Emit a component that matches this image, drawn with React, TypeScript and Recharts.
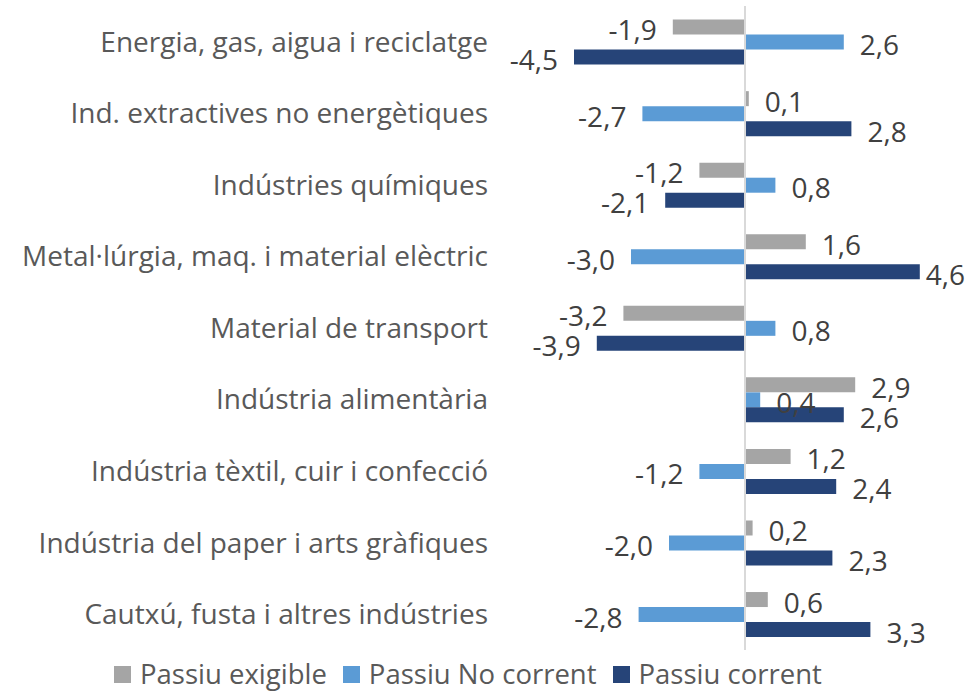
import React from 'react';
import { BarChart, Bar, XAxis, YAxis, ReferenceLine, Legend, LabelList } from 'recharts';

// sectors (top to bottom)
const sectors = [
  'Energia, gas, aigua i reciclatge',
  'Ind. extractives no energètiques',
  'Indústries químiques',
  'Metal·lúrgia, maq. i material elèctric',
  'Material de transport',
  'Indústria alimentària',
  'Indústria tèxtil, cuir i confecció',
  'Indústria del paper i arts gràfiques',
  'Cautxú, fusta i altres indústries',
];

const passiuExigible = [-1.9, 0.1, -1.2, 1.6, -3.2, 2.9, 1.2, 0.2, 0.6];
const passiuNoCorrent = [2.6, -2.7, 0.8, -3.0, 0.8, 0.4, -1.2, -2.0, -2.8];
const passiuCorrent = [-4.5, 2.8, -2.1, 4.6, -3.9, 2.6, 2.4, 2.3, 3.3];

const seriesNames = ['Passiu exigible', 'Passiu No corrent', 'Passiu corrent'];
const colors = ['#A5A5A5', '#5B9BD5', '#264478'];

const data = sectors.map((name, i) => ({
  name,
  exigible: passiuExigible[i],
  noCorrent: passiuNoCorrent[i],
  corrent: passiuCorrent[i],
}));

const FONT = '"Open Sans", sans-serif';
const LABEL_SIZE = 28;
const CHART_W = 967;

const fmt = (v: number) => v.toFixed(1).replace('.', ',');

// amplada aproximada del text de l'etiqueta
const textWidth = (s: string) =>
  s.split('').reduce((w, c) => w + (c === ',' ? 0.25 : c === '-' ? 0.32 : 0.57), 0) * LABEL_SIZE;

// etiqueta fora de la barra, a l'esquerra si es negatiu
const OutsideLabel = (props: any) => {
  const { x, y, width, height, value } = props;
  const left = Math.min(x, x + width);
  const right = Math.max(x, x + width);
  const neg = value < 0;
  const gap = 16;
  const txt = fmt(value);
  let tx = neg ? left - gap : right + gap;
  if (!neg) {
    const w = textWidth(txt);
    // com Excel: si no hi cap, s'apropa a la barra
    if (tx + w > CHART_W - 3) tx = Math.max(right + 6, CHART_W - 3 - w);
  }
  return (
    <text
      x={tx}
      y={y + height / 2}
      dy={13}
      textAnchor={neg ? 'end' : 'start'}
      fill="#404040"
      fontSize={LABEL_SIZE}
      fontFamily={FONT}
    >
      {txt}
    </text>
  );
};

const LegendContent = () => (
  <div style={{ display: 'flex', justifyContent: 'flex-start', alignItems: 'center', fontFamily: FONT, fontSize: 27.5, color: '#595959', paddingLeft: 114, lineHeight: '36px', height: 36 }}>
    {seriesNames.map((n, i) => (
      <div key={n} style={{ display: 'flex', alignItems: 'center', marginRight: 16 }}>
        <span style={{ display: 'inline-block', width: 17, height: 17, background: colors[i], marginRight: 9 }} />
        <span>{n}</span>
      </div>
    ))}
  </div>
);

export default function App() {
  return (
    <div style={{ position: 'absolute', top: 0, left: 0, background: '#fff' }}>
      <BarChart
        width={CHART_W}
        height={692}
        data={data}
        layout="vertical"
        margin={{ top: 6, right: 13, bottom: 6, left: 0 }}
        barCategoryGap="19%"
        barGap={0}
      >
        <XAxis type="number" domain={[-6, 5.5]} hide />
        <YAxis
          type="category"
          dataKey="name"
          width={517}
          axisLine={false}
          tickLine={false}
          tickSize={0}
          tickMargin={29}
          interval={0}
          tick={{ fill: '#595959', fontSize: 28, fontFamily: FONT }}
        />
        <ReferenceLine x={0} stroke="#D9D9D9" strokeWidth={2} />
        <Legend verticalAlign="bottom" content={<LegendContent />} wrapperStyle={{ bottom: 0, left: 0 }} />
        <Bar dataKey="exigible" name={seriesNames[0]} fill={colors[0]} isAnimationActive={false}>
          <LabelList dataKey="exigible" content={<OutsideLabel />} />
        </Bar>
        <Bar dataKey="noCorrent" name={seriesNames[1]} fill={colors[1]} isAnimationActive={false}>
          <LabelList dataKey="noCorrent" content={<OutsideLabel />} />
        </Bar>
        <Bar dataKey="corrent" name={seriesNames[2]} fill={colors[2]} isAnimationActive={false}>
          <LabelList dataKey="corrent" content={<OutsideLabel />} />
        </Bar>
      </BarChart>
    </div>
  );
}
